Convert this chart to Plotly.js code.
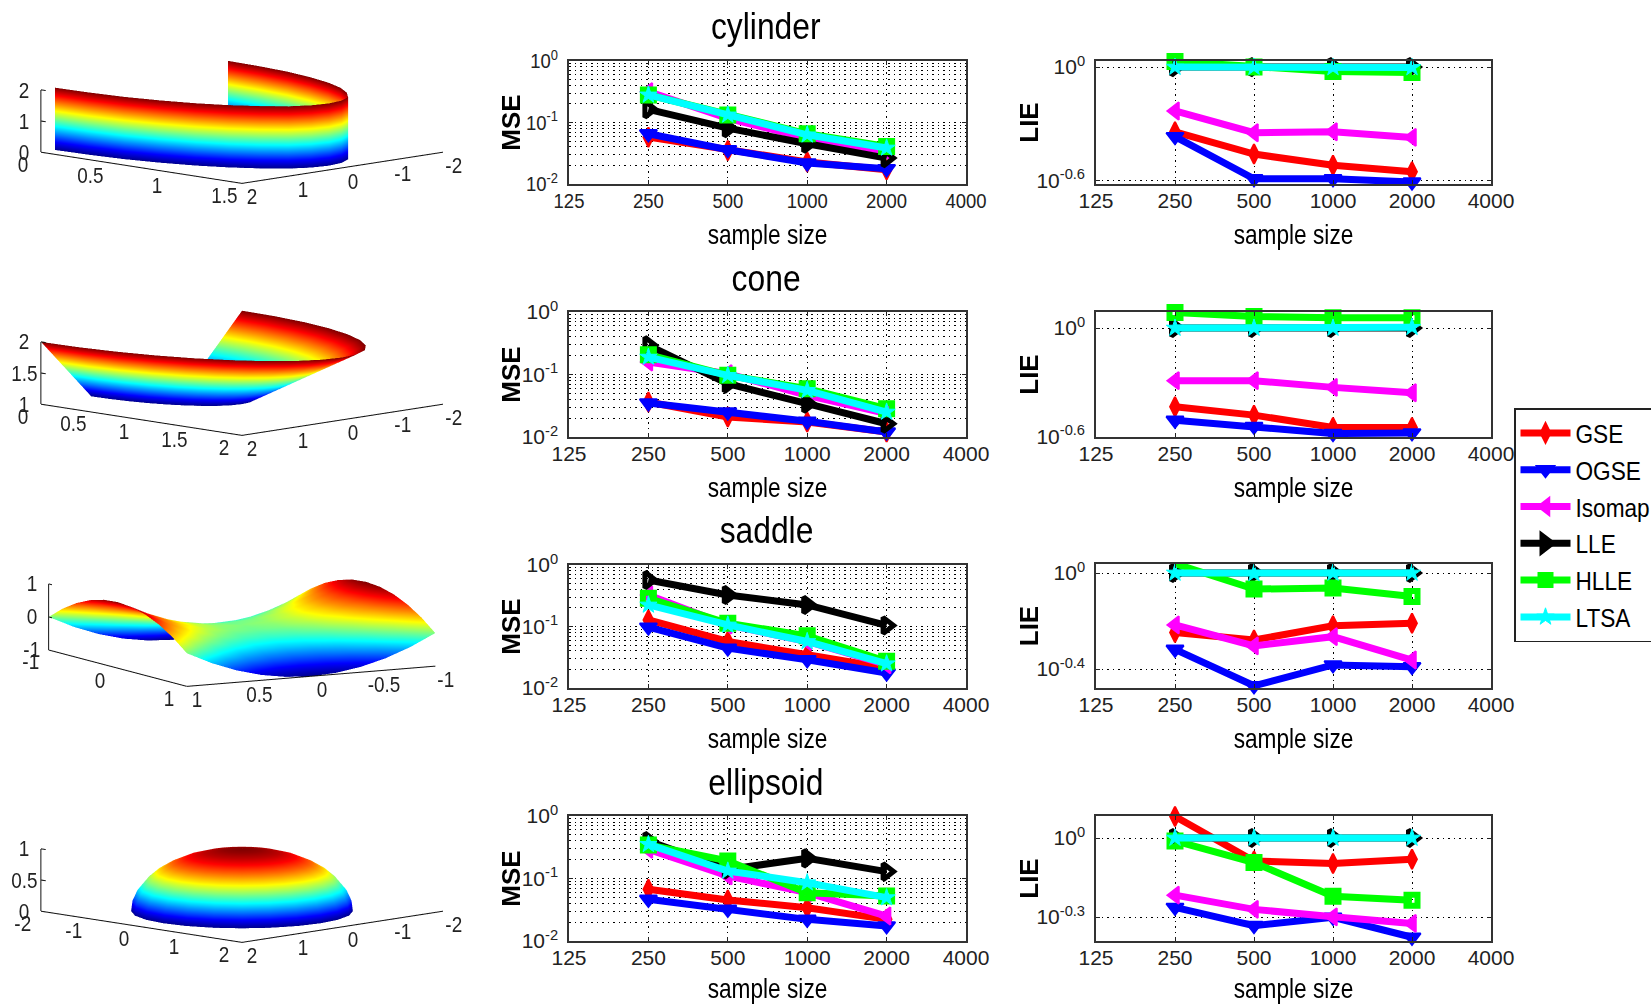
<!DOCTYPE html>
<html><head><meta charset="utf-8">
<script src="https://cdn.plot.ly/plotly-3.0.1.min.js"></script>
<style>html,body{margin:0;padding:0;background:#fff}#chart{width:1651px;height:1004px;filter:blur(0.5px)}</style>
</head><body><div id="chart"></div>
<script>
const sampleSizes = [250, 500, 1000, 2000];
const sampleTicks = [125, 250, 500, 1000, 2000, 4000];
const sampleTickText = ['125', '250', '500', '1000', '2000', '4000'];
const methods = ['GSE', 'OGSE', 'Isomap', 'LLE', 'HLLE', 'LTSA'];
const methodColors = ['#ff0000', '#0000ff', '#ff00ff', '#000000', '#00ff00', '#00ffff'];
const shapeNames = ['cylinder', 'cone', 'saddle', 'ellipsoid'];

// rows follow the order of `methods`
const mseCylinder = [[.0578,.0352,.0228,.0171],[.0655,.0361,.0219,.0177],[.318,.117,.0557,.0339],[.164,.0809,.0451,.0264],[.281,.133,.0655,.0408],[.281,.133,.0631,.0385]];
const mseCone = [[.0363,.0209,.0174,.012],[.035,.0251,.0178,.012],[.158,.103,.0465,.0236],[.293,.0713,.0341,.0163],[.207,.097,.0593,.0284],[.19,.097,.0558,.0251]];
const mseSaddle = [[.128,.0571,.0347,.0211],[.0975,.0445,.0288,.0175],[.326,.106,.0571,.0239],[.571,.326,.224,.104],[.288,.113,.0706,.0271],[.224,.106,.0571,.0248]];
const mseEllipsoid = [[.0671,.0453,.0341,.0222],[.0464,.0321,.0222,.0174],[.293,.11,.0593,.0251],[.398,.14,.21,.129],[.344,.191,.0593,.0525],[.352,.132,.0857,.0494]];
const lieCylinder = [[.456,.348,.304,.281],[.43,.258,.258,.248],[.587,.451,.456,.426],[1,1,1,1],[1.07,1,.948,.937],[1,1,.995,.995]];
const lieCone = [[.366,.329,.281,.281],[.308,.285,.26,.262],[.511,.511,.469,.438],[1,1,1,1],[1.22,1.16,1.14,1.14],[1,1,1,1.01]];
const lieSaddle = [[.565,.526,.603,.618],[.481,.339,.414,.407],[.608,.497,.543,.434],[1,1,1,1],[1.094,.857,.865,.798],[1,.995,1,1]];
const lieEllipsoid = [[1.208,.818,.8,.83],[.545,.465,.5,.42],[.607,.536,.502,.474],[1,1,1,1],[.975,.807,.601,.581],[1,1,1,1]];
const mseTicks = [0.01, 0.1, 1];
const mseTickText = ['10<sup>-2</sup>', '10<sup>-1</sup>', '10<sup>0</sup>'];
const mseMinorTicks = [.02,.03,.04,.05,.06,.07,.08,.09,.2,.3,.4,.5,.6,.7,.8,.9];
const lieLowExponent = [-0.6, -0.6, -0.4, -0.3];
const lieLowText = ['10<sup>-0.6</sup>', '10<sup>-0.6</sup>', '10<sup>-0.4</sup>', '10<sup>-0.3</sup>'];
const lieRanges = [[-0.616, 0.032], [-0.604, 0.089], [-0.479, 0.0375], [-0.391, 0.0837]];

// surface samples
const cylRimX = [0,.24,.48,.70,.90,1.07,1.21,1.32,1.38,1.40,1.38,1.32,1.21,1.07,.90,.70,.48,.24,0];
const cylRimY = [1.72,1.69,1.62,1.49,1.32,1.11,.86,.59,.30,0,-.30,-.59,-.86,-1.11,-1.32,-1.49,-1.62,-1.69,-1.72];
const cylHeights = [0, 1, 2];
const coneRimX = [0,.174,.342,.5,.643,.766,.866,.94,.985,1,.985,.94,.866,.766,.643,.5,.342,.174,0];
const coneRimY = [1,.985,.94,.866,.766,.643,.5,.342,.174,0,-.174,-.342,-.5,-.643,-.766,-.866,-.94,-.985,-1];
const coneHeights = [1, 1.25, 1.5, 1.75, 2];
const saddleX = [-1,-.8,-.6,-.4,-.2,0,.2,.4,.6,.8,1];
const saddleY = [1,.8,.6,.4,.2,0,-.2,-.4,-.6,-.8,-1];
const saddleZ = [
 [0,.36,.64,.84,.96,1,.96,.84,.64,.36,0],
 [-.36,0,.28,.48,.6,.64,.6,.48,.28,0,-.36],
 [-.64,-.28,0,.2,.32,.36,.32,.2,0,-.28,-.64],
 [-.84,-.48,-.2,0,.12,.16,.12,0,-.2,-.48,-.84],
 [-.96,-.6,-.32,-.12,0,.04,0,-.12,-.32,-.6,-.96],
 [-1,-.64,-.36,-.16,-.04,0,-.04,-.16,-.36,-.64,-1],
 [-.96,-.6,-.32,-.12,0,.04,0,-.12,-.32,-.6,-.96],
 [-.84,-.48,-.2,0,.12,.16,.12,0,-.2,-.48,-.84],
 [-.64,-.28,0,.2,.32,.36,.32,.2,0,-.28,-.64],
 [-.36,0,.28,.48,.6,.64,.6,.48,.28,0,-.36],
 [0,.36,.64,.84,.96,1,.96,.84,.64,.36,0]];
const domeRadius = [1.56,1.54,1.47,1.35,1.20,1.00,.78,.53,.27,0];
const domeHeights = [0,.17,.34,.5,.64,.77,.87,.94,.98,1];
const domeCos = [1,.966,.866,.707,.5,.259,0,-.259,-.5,-.707,-.866,-.966,-1,-.966,-.866,-.707,-.5,-.259,0,.259,.5,.707,.866,.966,1];
const domeSin = [0,.259,.5,.707,.866,.966,1,.966,.866,.707,.5,.259,0,-.259,-.5,-.707,-.866,-.966,-1,-.966,-.866,-.707,-.5,-.259,0];

const cylXTicks = [0,.5,1,1.5], cylYTicks = [2,1,0,-1,-2], cylZTicks = [0,1,2];
const coneXTicks = [0,.5,1,1.5,2], coneYTicks = [2,1,0,-1,-2], coneZTicks = [1,1.5,2];
const sadXTicks = [-1,0,1], sadYTicks = [1,.5,0,-.5,-1], sadZTicks = [-1,0,1];
const ellXTicks = [-2,-1,0,1,2], ellYTicks = [2,1,0,-1,-2], ellZTicks = [0,.5,1];

const W = 1651, H = 1004;
const FW = '"Liberation Sans",Arial,sans-serif';
const rowsTB = [[61,184],[312,437],[565,688],[816,941]];
const lieTB = [[61,184],[312,437],[564,688],[816,941]];
const mseData = [mseCylinder, mseCone, mseSaddle, mseEllipsoid];
const lieData = [lieCylinder, lieCone, lieSaddle, lieEllipsoid];
const markerStyle = [
 {symbol:'diamond-tall', size:14, w:2},
 {symbol:'triangle-down', size:15, w:2},
 {symbol:'triangle-left', size:15, w:2},
 {symbol:'triangle-right-open', size:14, w:5},
 {symbol:'square-open', size:11, w:6},
 {symbol:'star', size:13, w:1}
];
const jet = [[0,'#00008f'],[.125,'#0000ff'],[.375,'#00ffff'],[.625,'#ffff00'],[.875,'#ff0000'],[1,'#800000']];

const traces = [];
const layout = {width:W, height:H, margin:{l:0,r:0,t:0,b:0,pad:0,autoexpand:false}, paper_bgcolor:'#fff', plot_bgcolor:'#fff',
  font:{family:FW, size:21, color:'#111'}, annotations:[],
  legend:{x:1514/W, y:1-408/H, xanchor:'left', yanchor:'top', bgcolor:'#fff', bordercolor:'#222', borderwidth:1.5,
    font:{family:FW, size:26, color:'#000'}, itemwidth:50, entrywidth:72, entrywidthmode:'pixels', traceorder:'normal', tracegroupgap:0, itemclick:false}};

function addPanel(idx, L, R, T, B, yRange, yVals, yText, minor, data, yTitle, showLegend) {
  const s = idx === 1 ? '' : String(idx);
  const grid = {showgrid:true, griddash:'1.5px,4px', gridcolor:'#000', gridwidth:1.2};
  layout['xaxis'+s] = Object.assign({type:'log', domain:[L/W,R/W], anchor:'y'+s, range:[Math.log10(125),Math.log10(4000)],
    tickmode:'array', tickvals:sampleTicks, ticktext:sampleTickText, ticks:'inside', ticklen:4, tickcolor:'#222',
    showline:true, linecolor:'#333', linewidth:1.5, mirror:'ticks', zeroline:false, ticklabelstandoff:-3,
    tickfont:{family:FW,size:21,color:'#222'},
    title:{text:'sample size', font:{family:FW,size:27,color:'#000'}, standoff:14}}, grid);
  const yax = Object.assign({type:'log', domain:[1-B/H,1-T/H], anchor:'x'+s, range:yRange,
    tickmode:'array', tickvals:yVals, ticktext:yText, ticks:'inside', ticklen:4, tickcolor:'#222',
    showline:true, linecolor:'#333', linewidth:1.5, mirror:'ticks', zeroline:false, ticklabelstandoff:5,
    tickfont:{family:FW,size:21,color:'#222'},
    title:{text:yTitle, font:{family:FW,size:26,color:'#000',weight:'bold'}, standoff:0}}, grid);
  if (minor) yax.minor = {tickmode:'array', tickvals:minor, showgrid:true, griddash:'1.5px,4px', gridcolor:'#000', gridwidth:1.2, ticks:''};
  layout['yaxis'+s] = yax;
  methods.forEach((m,i)=>{
    traces.push({type:'scatter', mode:'lines+markers', name:m, x:sampleSizes, y:data[i], xaxis:'x'+s, yaxis:'y'+s,
      cliponaxis:false, showlegend:showLegend, legendgroup:m,
      line:{color:methodColors[i], width:7},
      marker:{symbol:markerStyle[i].symbol, size:markerStyle[i].size, color:methodColors[i],
        line:{color:methodColors[i], width:markerStyle[i].w}}});
  });
}

shapeNames.forEach((name,r)=>{
  const [t,b] = rowsTB[r];
  addPanel(2*r+1, 569, 966, t, b, [-2,0], mseTicks, mseTickText, mseMinorTicks, mseData[r], 'MSE', false);
  const [t2,b2] = lieTB[r];
  addPanel(2*r+2, 1096, 1491, t2, b2, lieRanges[r], [Math.pow(10,lieLowExponent[r]),1], [lieLowText[r],'10<sup>0</sup>'], null, lieData[r], 'LIE', r===0);
});
shapeNames.forEach((name,r)=>{
  layout.annotations.push({xref:'paper', yref:'paper', x:766/W, y:1-[27,278,530,782][r]/H, text:name, showarrow:false,
    xanchor:'center', yanchor:'middle', font:{family:FW,size:37,color:'#000'}});
});

// 3D panels
const surfaces = [
 {x:cylHeights.map(()=>cylRimX), y:cylHeights.map(()=>cylRimY), z:cylHeights.map(h=>cylRimX.map(()=>h)), c:[0,2],
  xr:[0,1.5], yr:[2,-2], zr:[0,2], xt:cylXTicks, yt:cylYTicks, zt:cylZTicks, cy:121.5},
 {x:coneHeights.map(h=>coneRimX.map(v=>v*h)), y:coneHeights.map(h=>coneRimY.map(v=>v*h)), z:coneHeights.map(h=>coneRimX.map(()=>h)), c:[1,2],
  xr:[0,2], yr:[2,-2], zr:[1,2], xt:coneXTicks, yt:coneYTicks, zt:coneZTicks, cy:373},
 {x:saddleY.map(()=>saddleX), y:saddleY.map(v=>saddleX.map(()=>v)), z:saddleZ, c:[-1,1],
  xr:[-1,1], yr:[1,-1], zr:[-1,1], xt:sadXTicks, yt:sadYTicks, zt:sadZTicks, cy:625, saddle:true},
 {x:domeRadius.map(r=>domeCos.map(c=>c*r)), y:domeRadius.map(r=>domeSin.map(c=>c*r)), z:domeHeights.map(h=>domeCos.map(()=>h)), c:[0,1],
  xr:[-2,2], yr:[2,-2], zr:[0,1], xt:ellXTicks, yt:ellYTicks, zt:ellZTicks, cy:880}
];
const EYE_K = 3;
const BOX = 2.37;
surfaces.forEach((S,i)=>{
  const sid = i===0 ? 'scene' : 'scene'+(i+1);
  traces.push({type:'surface', scene:sid, x:S.x, y:S.y, z:S.z, surfacecolor:S.z, cmin:S.c[0], cmax:S.c[1],
    colorscale:jet, showscale:false, hoverinfo:'skip',
    lighting:{ambient:1,diffuse:0,specular:0,fresnel:0,roughness:1},
    contours:{x:{highlight:false},y:{highlight:false},z:{highlight:false}}});
  const xm=S.xr[0], xM=S.xr[1], yF=S.yr[0], yB=S.yr[1], zm=S.zr[0], zM=S.zr[1];
  const lx=[xm,xM,xM,null,xm,xm], ly=[yF,yF,yB,null,yF,yF], lz=[zm,zm,zm,null,zm,zM];
  const dxT=(xM-xm)*.012;
  S.zt.forEach(t=>{lx.push(null,xm,xm+dxT*2);ly.push(null,yF,yF);lz.push(null,t,t);});
  traces.push({type:'scatter3d', mode:'lines', scene:sid, x:lx, y:ly, z:lz, hoverinfo:'skip', showlegend:false,
    line:{color:'#111', width:2}, connectgaps:false});
  const ann=[];
  const f={family:FW,size:22,color:'#222'};
  S.xt.forEach(v=>ann.push({x:v,y:yF,z:zm,text:String(v),showarrow:false,font:f,xshift:-17,yshift:-12}));
  S.yt.forEach(v=>ann.push({x:xM,y:v,z:zm,text:String(v),showarrow:false,font:f,xshift:11,yshift:-13}));
  S.zt.forEach(v=>ann.push({x:xm,y:yF,z:v,text:String(v),showarrow:false,font:f,xshift:-16,yshift:0}));
  const hh=120, cx=241.5;
  const eye = S.saddle ? {x:.874*EYE_K,y:-.486*EYE_K,z:.148*EYE_K} : {x:.7071*EYE_K,y:-.7071*EYE_K,z:.157*EYE_K};
  layout[sid] = {domain:{x:[(cx-240)/W,(cx+240)/W], y:[1-(S.cy+hh)/H,1-(S.cy-hh)/H]},
    aspectmode:'manual', aspectratio:{x:BOX,y:BOX,z:(S.saddle?.235:.222)*BOX},
    camera:{projection:{type:'orthographic'}, eye:eye, center:{x:0,y:0,z:0}, up:{x:0,y:0,z:1}},
    bgcolor:'#fff', annotations:ann,
    xaxis:{visible:false, range:S.xr}, yaxis:{visible:false, range:S.yr}, zaxis:{visible:false, range:S.zr}};
});

// the reference's lettering is horizontally squeezed: narrow each upright text around its own anchor
const squeeze = [['.xtick text, .ytick text', .88], ['[class^="x"][class$="title"]', .84], ['.annotation-text', .86], ['.legendtext', .87]];
const yTitleShift = {MSE:6, LIE:10};
function condense(){
  squeeze.forEach(([sel,k])=>{
    document.querySelectorAll(sel).forEach(t=>{
      const tr = t.getAttribute('transform') || '';
      if (tr.indexOf('scale(') >= 0) return;
      const x = parseFloat(t.getAttribute('x')) || 0;
      t.setAttribute('transform', tr + ' translate(' + x + ',0) scale(' + k + ',1) translate(' + (-x) + ',0)');
    });
  });
  document.querySelectorAll('[class^="y"][class$="title"]').forEach(t=>{
    const tr = t.getAttribute('transform') || '';
    if (tr.indexOf('translate(') >= 0) return;
    t.setAttribute('transform', 'translate(' + (yTitleShift[t.textContent] || 0) + ',0) ' + tr);
  });
}
Plotly.newPlot('chart', traces, layout, {displayModeBar:false, responsive:false}).then(()=>{
  condense();
  document.getElementById('chart').on('plotly_afterplot', condense);
  setInterval(condense, 50);
});
</script></body></html>
